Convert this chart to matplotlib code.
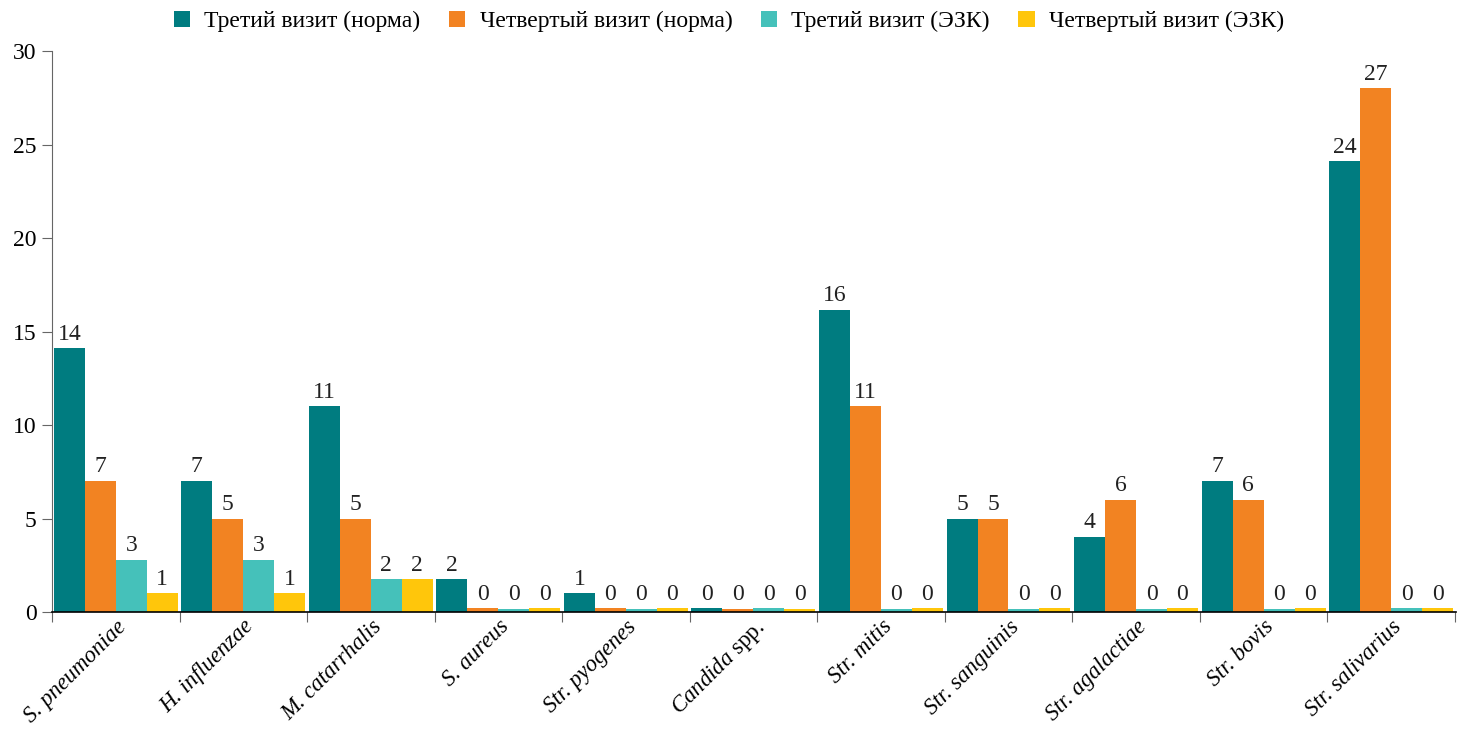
import matplotlib.pyplot as plt
import numpy as np

plt.rcParams['font.family'] = ['Liberation Serif', 'DejaVu Serif']
plt.rcParams['mathtext.fontset'] = 'custom'
plt.rcParams['mathtext.rm'] = 'Liberation Serif'
plt.rcParams['mathtext.it'] = 'Liberation Serif:italic'

categories = ['S. pneumoniae', 'H. influenzae', 'M. catarrhalis', 'S. aureus', 'Str. pyogenes',
              r'$\mathit{Candida}$ spp.', 'Str. mitis', 'Str. sanguinis', 'Str. agalactiae',
              'Str. bovis', 'Str. salivarius']
series_names = ['Третий визит (норма)', 'Четвертый визит (норма)', 'Третий визит (ЭЗК)', 'Четвертый визит (ЭЗК)']

# bar heights as drawn
third_norm = [14.1, 7.0, 11.0, 1.75, 1.0, 0.2, 16.15, 5.0, 4.0, 7.0, 24.1]
fourth_norm = [7.0, 5.0, 5.0, 0.2, 0.2, 0.15, 11.0, 5.0, 6.0, 6.0, 28.0]
third_ezk = [2.8, 2.8, 1.75, 0.15, 0.15, 0.2, 0.15, 0.15, 0.15, 0.15, 0.2]
fourth_ezk = [1.0, 1.0, 1.75, 0.2, 0.2, 0.15, 0.2, 0.2, 0.2, 0.2, 0.2]

# printed value labels
third_norm_lbl = [14, 7, 11, 2, 1, 0, 16, 5, 4, 7, 24]
fourth_norm_lbl = [7, 5, 5, 0, 0, 0, 11, 5, 6, 6, 27]
third_ezk_lbl = [3, 3, 2, 0, 0, 0, 0, 0, 0, 0, 0]
fourth_ezk_lbl = [1, 1, 2, 0, 0, 0, 0, 0, 0, 0, 0]

colors = ['#007C80', '#F28322', '#45C1BA', '#FFC60B']

fig = plt.figure(figsize=(14.58, 7.29), dpi=100)
ax = fig.add_axes([0.0357, 0.1605, 0.963, 0.7695])

x = np.arange(len(categories))
w = 0.243
series = [third_norm, fourth_norm, third_ezk, fourth_ezk]
labels = [third_norm_lbl, fourth_norm_lbl, third_ezk_lbl, fourth_ezk_lbl]
for i, (vals, lbls) in enumerate(zip(series, labels)):
    pos = x + (i - 1.5) * w
    ax.bar(pos, vals, width=w, color=colors[i], label=series_names[i])
    for p, v, l in zip(pos, vals, lbls):
        ax.text(p, v + 0.2, str(l), ha='center', va='bottom', fontsize=17, color='#222222')

ax.set_xlim(-0.5, len(categories) - 0.5 + 0.01)
ax.set_ylim(0, 30)
ax.set_yticks([0, 5, 10, 15, 20, 25, 30])
ax.tick_params(axis='y', labelsize=17, length=7, color='#666666', pad=4)

ax.set_xticks(np.arange(len(categories) + 1) - 0.5, minor=False)
ax.set_xticklabels([])
ax.tick_params(axis='x', which='major', length=7, color='#666666')
ax.set_xticks(x, minor=True)
ax.set_xticklabels(categories, minor=True, rotation=45, ha='right', rotation_mode='anchor', fontsize=16.5)
for lbl in ax.get_xticklabels(minor=True):
    if not lbl.get_text().startswith('$'):
        lbl.set_fontstyle('italic')
ax.tick_params(axis='x', which='minor', length=0, pad=3)

for s in ['top', 'right']:
    ax.spines[s].set_visible(False)
ax.spines['left'].set_color('#666666')
ax.spines['bottom'].set_color('black')
ax.spines['bottom'].set_linewidth(1.2)

ax.legend(loc='upper center', bbox_to_anchor=(0.482, 1.11), ncol=4, frameon=False, fontsize=17,
          handlelength=0.7, handleheight=0.7, handletextpad=0.6, columnspacing=1.2)

fig.savefig('out.png', dpi=100)
